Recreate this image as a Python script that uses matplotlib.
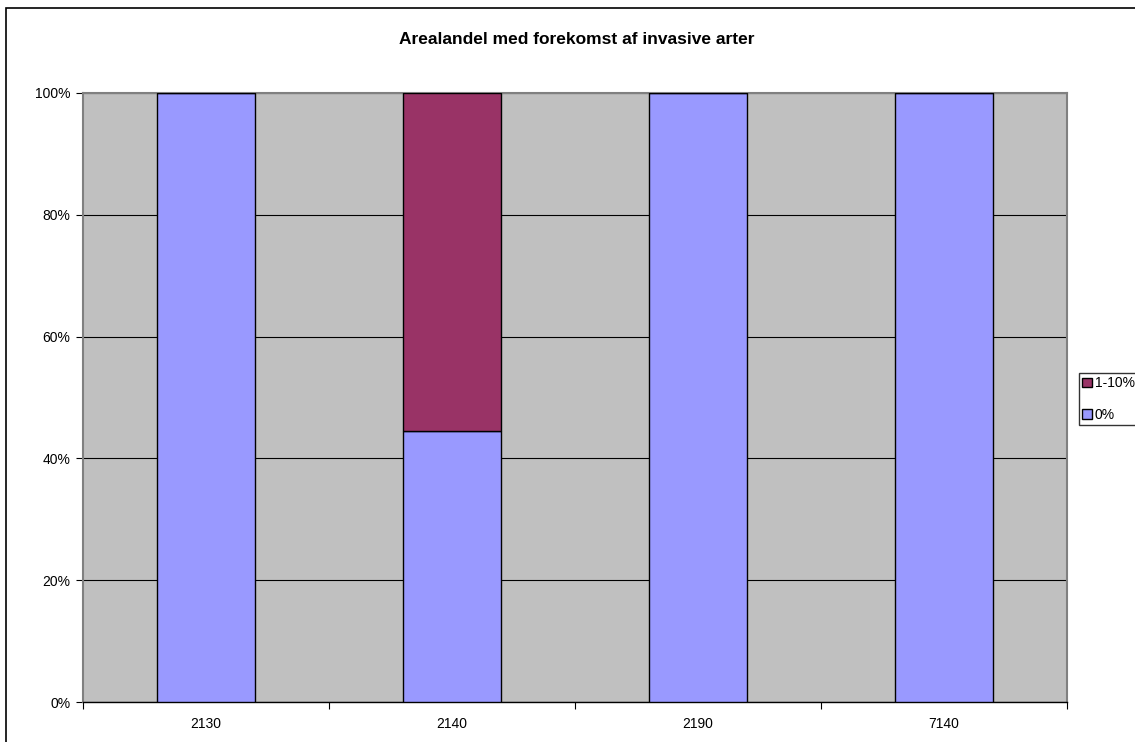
import numpy as np
import matplotlib.pyplot as plt
from matplotlib.patches import Rectangle
from matplotlib.ticker import FixedLocator, PercentFormatter

# data
categories = ["2130", "2140", "2190", "7140"]
share_0 = [100.0, 44.5, 100.0, 100.0]
share_1_10 = [0.0, 55.5, 0.0, 0.0]
y_ticks = [0, 20, 40, 60, 80, 100]

plt.rcParams["font.family"] = ["Liberation Sans", "DejaVu Sans"]

fig = plt.figure(figsize=(11.35, 7.42), dpi=100, facecolor="white")
ax = fig.add_axes([83 / 1135, 40 / 742, (1067 - 83) / 1135, (702 - 93) / 742])

# outer chart border (right/bottom edges fall off the canvas)
fig.patches.append(Rectangle((6 / 1135, -0.05), 1.2, 1 - 8 / 742 + 0.05,
                             transform=fig.transFigure, fill=False,
                             edgecolor="black", linewidth=1.2, zorder=0))

ax.set_facecolor("#C0C0C0")
x = np.arange(len(categories))
width = 0.4
b0 = ax.bar(x, share_0, width, color="#9999FF", edgecolor="black",
            linewidth=1.0, label="0%", zorder=3)
b1 = ax.bar(x, share_1_10, width, bottom=share_0, color="#993366",
            edgecolor="black", linewidth=1.0, label="1-10%", zorder=3)

ax.set_xlim(-0.5, len(categories) - 0.5)
ax.set_ylim(0, 100)
ax.yaxis.set_major_locator(FixedLocator(y_ticks))
ax.yaxis.set_major_formatter(PercentFormatter(decimals=0))
ax.grid(axis="y", color="black", linewidth=0.8, zorder=1)

ax.set_xticks(x)
ax.set_xticklabels(categories)
ax.xaxis.set_minor_locator(FixedLocator(np.arange(-0.5, len(categories), 1.0)))
ax.tick_params(axis="x", which="major", length=0, pad=11, labelsize=10)
ax.tick_params(axis="x", which="minor", length=5, width=0.8, direction="out")
ax.tick_params(axis="y", length=5, width=0.8, direction="out", pad=4, labelsize=10)

for side in ["top", "right", "left"]:
    ax.spines[side].set_color("#808080")
    ax.spines[side].set_linewidth(1.5)
ax.spines["bottom"].set_color("black")
ax.spines["bottom"].set_linewidth(1.0)

fig.text(577 / 1135, 1 - 39 / 742, "Arealandel med forekomst af invasive arter",
         ha="center", va="center", fontsize=12.5, fontweight="bold")

leg = fig.legend(handles=[b1, b0], labels=["1-10%", "0%"],
                 loc="upper left", bbox_to_anchor=(1079 / 1135, 1 - 373 / 742),
                 frameon=True, fancybox=False, fontsize=10,
                 handlelength=0.7, handleheight=0.7, handletextpad=0.2,
                 borderpad=0.25, labelspacing=1.25, borderaxespad=0)
leg.get_frame().set_edgecolor("black")
leg.get_frame().set_linewidth(1.0)

fig.savefig("out.png", dpi=100, facecolor="white")
